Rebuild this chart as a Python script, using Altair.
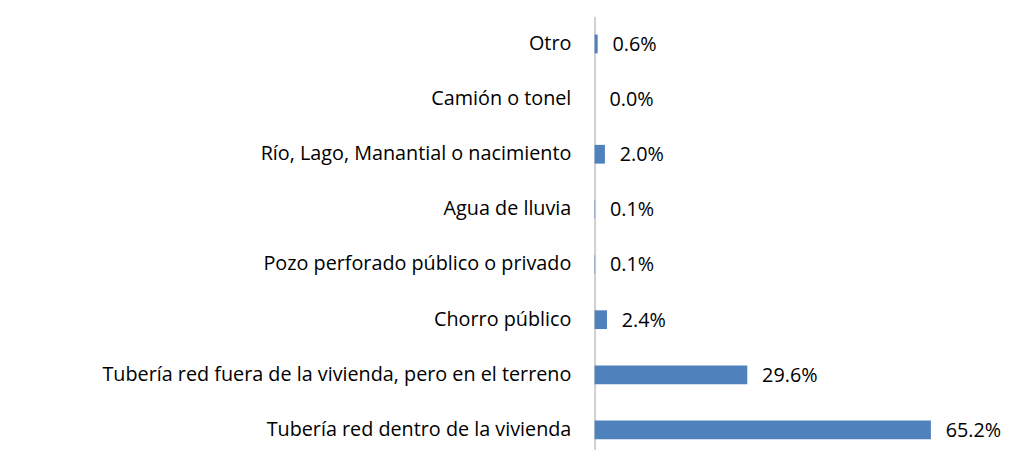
import altair as alt
import pandas as pd

categories = [
    "Otro",
    "Camión o tonel",
    "Río, Lago, Manantial o nacimiento",
    "Agua de lluvia",
    "Pozo perforado público o privado",
    "Chorro público",
    "Tubería red fuera de la vivienda, pero en el terreno",
    "Tubería red dentro de la vivienda",
]
values = [0.6, 0.0, 2.0, 0.1, 0.1, 2.4, 29.6, 65.2]

df = pd.DataFrame({"cat": categories, "val": values})
df["label"] = [f"{v:.1f}%" for v in values]

FONT = "Open Sans"

y = alt.Y(
    "cat:N",
    sort=categories,
    title=None,
    scale=alt.Scale(paddingInner=0.66, paddingOuter=0.33),
    axis=alt.Axis(
        ticks=False,
        labelPadding=24,
        labelFont=FONT,
        labelFontSize=20,
        labelColor="#000000",
        labelLimit=600,
        domainColor="#d0d0d0",
        domainWidth=2,
    ),
)
x = alt.X(
    "val:Q",
    scale=alt.Scale(domain=[0, 70], nice=False),
    axis=None,
)

bars = alt.Chart(df).mark_bar(color="#4F81BD").encode(x=x, y=y)
text = alt.Chart(df).mark_text(
    align="left", baseline="middle", dx=15, dy=1, font=FONT, fontSize=20, color="#000000"
).encode(x=x, y=y, text="label:N")

chart = (
    alt.layer(bars, text)
    .properties(
        width=365,
        height=446,
        background="white",
        autosize=alt.AutoSizeParams(type="none"),
        padding={"left": 593, "top": 6, "right": 60, "bottom": 0},
    )
    .configure_view(strokeWidth=0, stroke=None)
)

chart.save("out.html", embed_options={"renderer": "svg", "actions": False})
